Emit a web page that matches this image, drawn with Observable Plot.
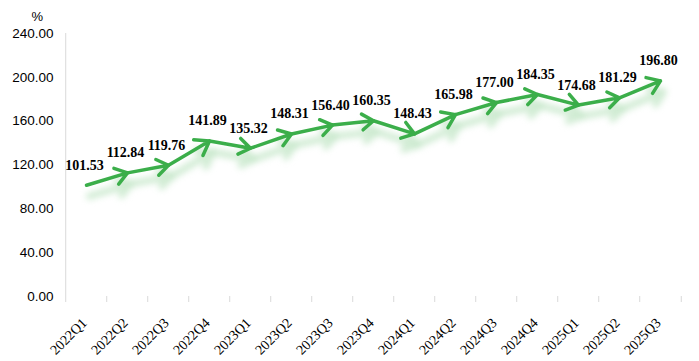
<!DOCTYPE html>
<html><head><meta charset="utf-8">
<script src="https://cdn.jsdelivr.net/npm/d3@7"></script>
<script src="https://cdn.jsdelivr.net/npm/@observablehq/plot@0.6"></script>
<style>body{margin:0;background:#fff;}</style>
</head><body><div id="chart"></div>
<script>
const quarters = ["2022Q1","2022Q2","2022Q3","2022Q4","2023Q1","2023Q2","2023Q3","2023Q4","2024Q1","2024Q2","2024Q3","2024Q4","2025Q1","2025Q2","2025Q3"];
const values = [101.53,112.84,119.76,141.89,135.32,148.31,156.40,160.35,148.43,165.98,177.00,184.35,174.68,181.29,196.80];
const yTicks = [0,40,80,120,160,200,240];
const unitLabel = "%";

const data = quarters.map((q,i)=>({q, v: values[i]}));
const segs = data.slice(1).map((d,i)=>({q1: data[i].q, v1: data[i].v, q2: d.q, v2: d.v}));

const W = 699, H = 361, mL = 61, mR = 15, mT = 33, mB = 65;
const step = (W - mL - mR) / quarters.length;
const green = "#3bae4a";

const plot = Plot.plot({
  width: W, height: H,
  marginLeft: mL, marginRight: mR, marginTop: mT, marginBottom: mB,
  style: {background: "#fff", overflow: "visible"},
  x: {type: "point", domain: quarters, padding: 0.5, axis: null},
  y: {domain: [0, 240], axis: null},
  marks: [
    // shadow
    Plot.arrow(segs, {x1: "q1", y1: "v1", x2: "q2", y2: "v2", stroke: "#c2e5c5", strokeWidth: 7, headLength: 12, headAngle: 70, dx: 3, dy: 11, strokeOpacity: 0.75}),
    // axes lines
    Plot.ruleX([0], {x: () => quarters[0], dx: -step/2, stroke: "#d9d9d9", y1: 0, y2: 240}),
    Plot.ruleY([0], {stroke: "#d9d9d9", x1: quarters[0], x2: quarters[quarters.length-1], insetLeft: -step/2, insetRight: -step/2}),
    Plot.ruleX(quarters, {x: d => d, dx: -step/2, y1: 0, y2: 0, insetBottom: -6, stroke: "#d9d9d9"}),
    Plot.ruleX([quarters[quarters.length-1]], {x: d => d, dx: step/2, y1: 0, y2: 0, insetBottom: -6, stroke: "#d9d9d9"}),
    Plot.ruleY(yTicks, {y: d => d, x1: quarters[0], x2: quarters[0], dx: -step/2, insetLeft: -4, stroke: "#d9d9d9"}),
    Plot.text(yTicks, {y: d => d, text: d => d.toFixed(2), frameAnchor: "left", dx: -8, textAnchor: "end", fontSize: 13.5, fontFamily: "Liberation Sans, Arial, sans-serif", fill: "#000"}),
    Plot.text([unitLabel], {text: d => d, frameAnchor: "top-left", dx: -30, dy: -22, fontSize: 13, fontFamily: "Liberation Sans, Arial, sans-serif", fill: "#000"}),
    Plot.text(quarters, {x: d => d, y: 0, text: d => d, rotate: -45, textAnchor: "end", dx: -2, dy: 24, fontSize: 14, fontFamily: "Liberation Serif, Times New Roman, serif", fill: "#000"}),
    // main arrows
    Plot.arrow(segs, {x1: "q1", y1: "v1", x2: "q2", y2: "v2", stroke: green, strokeWidth: 3.5, headLength: 12, headAngle: 70}),
    // labels
    Plot.text(data, {x: "q", y: "v", text: d => d.v.toFixed(2), dx: -2, dy: -20, fontSize: 14, fontWeight: "bold", fontFamily: "Liberation Serif, Times New Roman, serif", fill: "#000"})
  ]
});
document.getElementById("chart").appendChild(plot);
const shadow = plot.querySelector('g[aria-label="arrow"]');
if (shadow) shadow.style.filter = "blur(3px)";
</script>
</body></html>
